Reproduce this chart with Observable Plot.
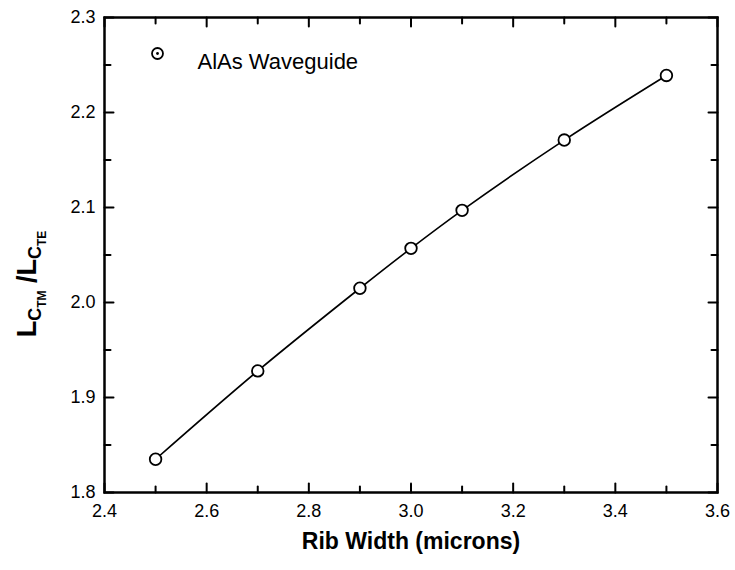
<!DOCTYPE html>
<html><head><meta charset="utf-8">
<script src="https://cdn.jsdelivr.net/npm/d3@7"></script>
<script src="https://cdn.jsdelivr.net/npm/@observablehq/plot@0.6"></script>
<style>
body{margin:0;background:#fff}
#chart{width:735px;height:570px}
</style>
</head><body><div id="chart"></div>
<script>
const ribWidth = [2.5, 2.7, 2.9, 3.0, 3.1, 3.3, 3.5];
const ratio = [1.835, 1.928, 2.015, 2.057, 2.097, 2.171, 2.239];
const xTicks = [2.4, 2.6, 2.8, 3.0, 3.2, 3.4, 3.6];
const xMinor = [2.5, 2.7, 2.9, 3.1, 3.3, 3.5];
const yTicks = [1.8, 1.9, 2.0, 2.1, 2.2, 2.3];
const yMinor = [1.85, 1.95, 2.05, 2.15, 2.25];
const seriesName = "AlAs Waveguide";
const xLabel = "Rib Width (microns)";

const FONT = "'Liberation Sans', Arial, Helvetica, sans-serif";
const data = ribWidth.map((x, i) => ({x, y: ratio[i]}));
const tickShape = {draw(ctx, l) { ctx.moveTo(0, 0); ctx.lineTo(0, -l); }};

function xTickMarks(values, len) {
  const o = {x: d => d, length: len, anchor: "start", shape: tickShape, stroke: "black", strokeWidth: 2};
  return [
    Plot.vector(values, {...o, frameAnchor: "bottom", rotate: 0}),
    Plot.vector(values, {...o, frameAnchor: "top", rotate: 180})
  ];
}
function yTickMarks(values, len) {
  const o = {y: d => d, length: len, anchor: "start", shape: tickShape, stroke: "black", strokeWidth: 2};
  return [
    Plot.vector(values, {...o, frameAnchor: "left", rotate: 90}),
    Plot.vector(values, {...o, frameAnchor: "right", rotate: -90})
  ];
}

const plot = Plot.plot({
  width: 735,
  height: 570,
  marginLeft: 104,
  marginRight: 18,
  marginTop: 17,
  marginBottom: 78,
  style: {fontFamily: FONT, color: "black", background: "white"},
  x: {domain: [2.4, 3.6]},
  y: {domain: [1.8, 2.3]},
  marks: [
    Plot.axisX({ticks: xTicks, tickSize: 0, tickPadding: 12, fontSize: 18, tickFormat: d3.format(".1f"), label: null}),
    Plot.axisY({ticks: yTicks, tickSize: 0, tickPadding: 9, fontSize: 18, tickFormat: d3.format(".1f"), label: null}),
    ...xTickMarks(xTicks, 9),
    ...xTickMarks(xMinor, 6),
    ...yTickMarks(yTicks, 9),
    ...yTickMarks(yMinor, 6),
    Plot.line(data, {x: "x", y: "y", curve: "catmull-rom", stroke: "black", strokeWidth: 1.6}),
    Plot.dot(data, {x: "x", y: "y", r: 5.8, fill: "white", stroke: "black", strokeWidth: 1.8}),
    Plot.dot([seriesName], {frameAnchor: "top-left", dx: 53, dy: 36, r: 5.5, fill: "white", stroke: "black", strokeWidth: 1.8}),
    Plot.dot([seriesName], {frameAnchor: "top-left", dx: 53, dy: 36, r: 1.4, fill: "black"}),
    Plot.text([seriesName], {text: d => d, frameAnchor: "top-left", dx: 93, dy: 36, textAnchor: "start", fontSize: 22, fill: "black"}),
    Plot.text([xLabel], {text: d => d, frameAnchor: "bottom", dy: 56, fontSize: 23, fontWeight: "bold", fill: "black"}),
    Plot.frame({stroke: "black", strokeWidth: 2.5})
  ]
});

const svg = d3.select(plot);
const t = svg.append("text")
  .attr("transform", "translate(36,284) rotate(-90)")
  .attr("text-anchor", "middle")
  .attr("font-family", FONT)
  .attr("font-weight", "bold")
  .attr("fill", "black");
t.append("tspan").attr("font-size", 27).text("L");
t.append("tspan").attr("font-size", 18).attr("dy", 5).text("C");
t.append("tspan").attr("font-size", 12).attr("dy", 5).text("TM");
t.append("tspan").attr("font-size", 27).attr("dy", -10).text(" /L");
t.append("tspan").attr("font-size", 18).attr("dy", 5).text("C");
t.append("tspan").attr("font-size", 12).attr("dy", 5).text("TE");

document.getElementById("chart").appendChild(plot);
</script>
</body></html>
